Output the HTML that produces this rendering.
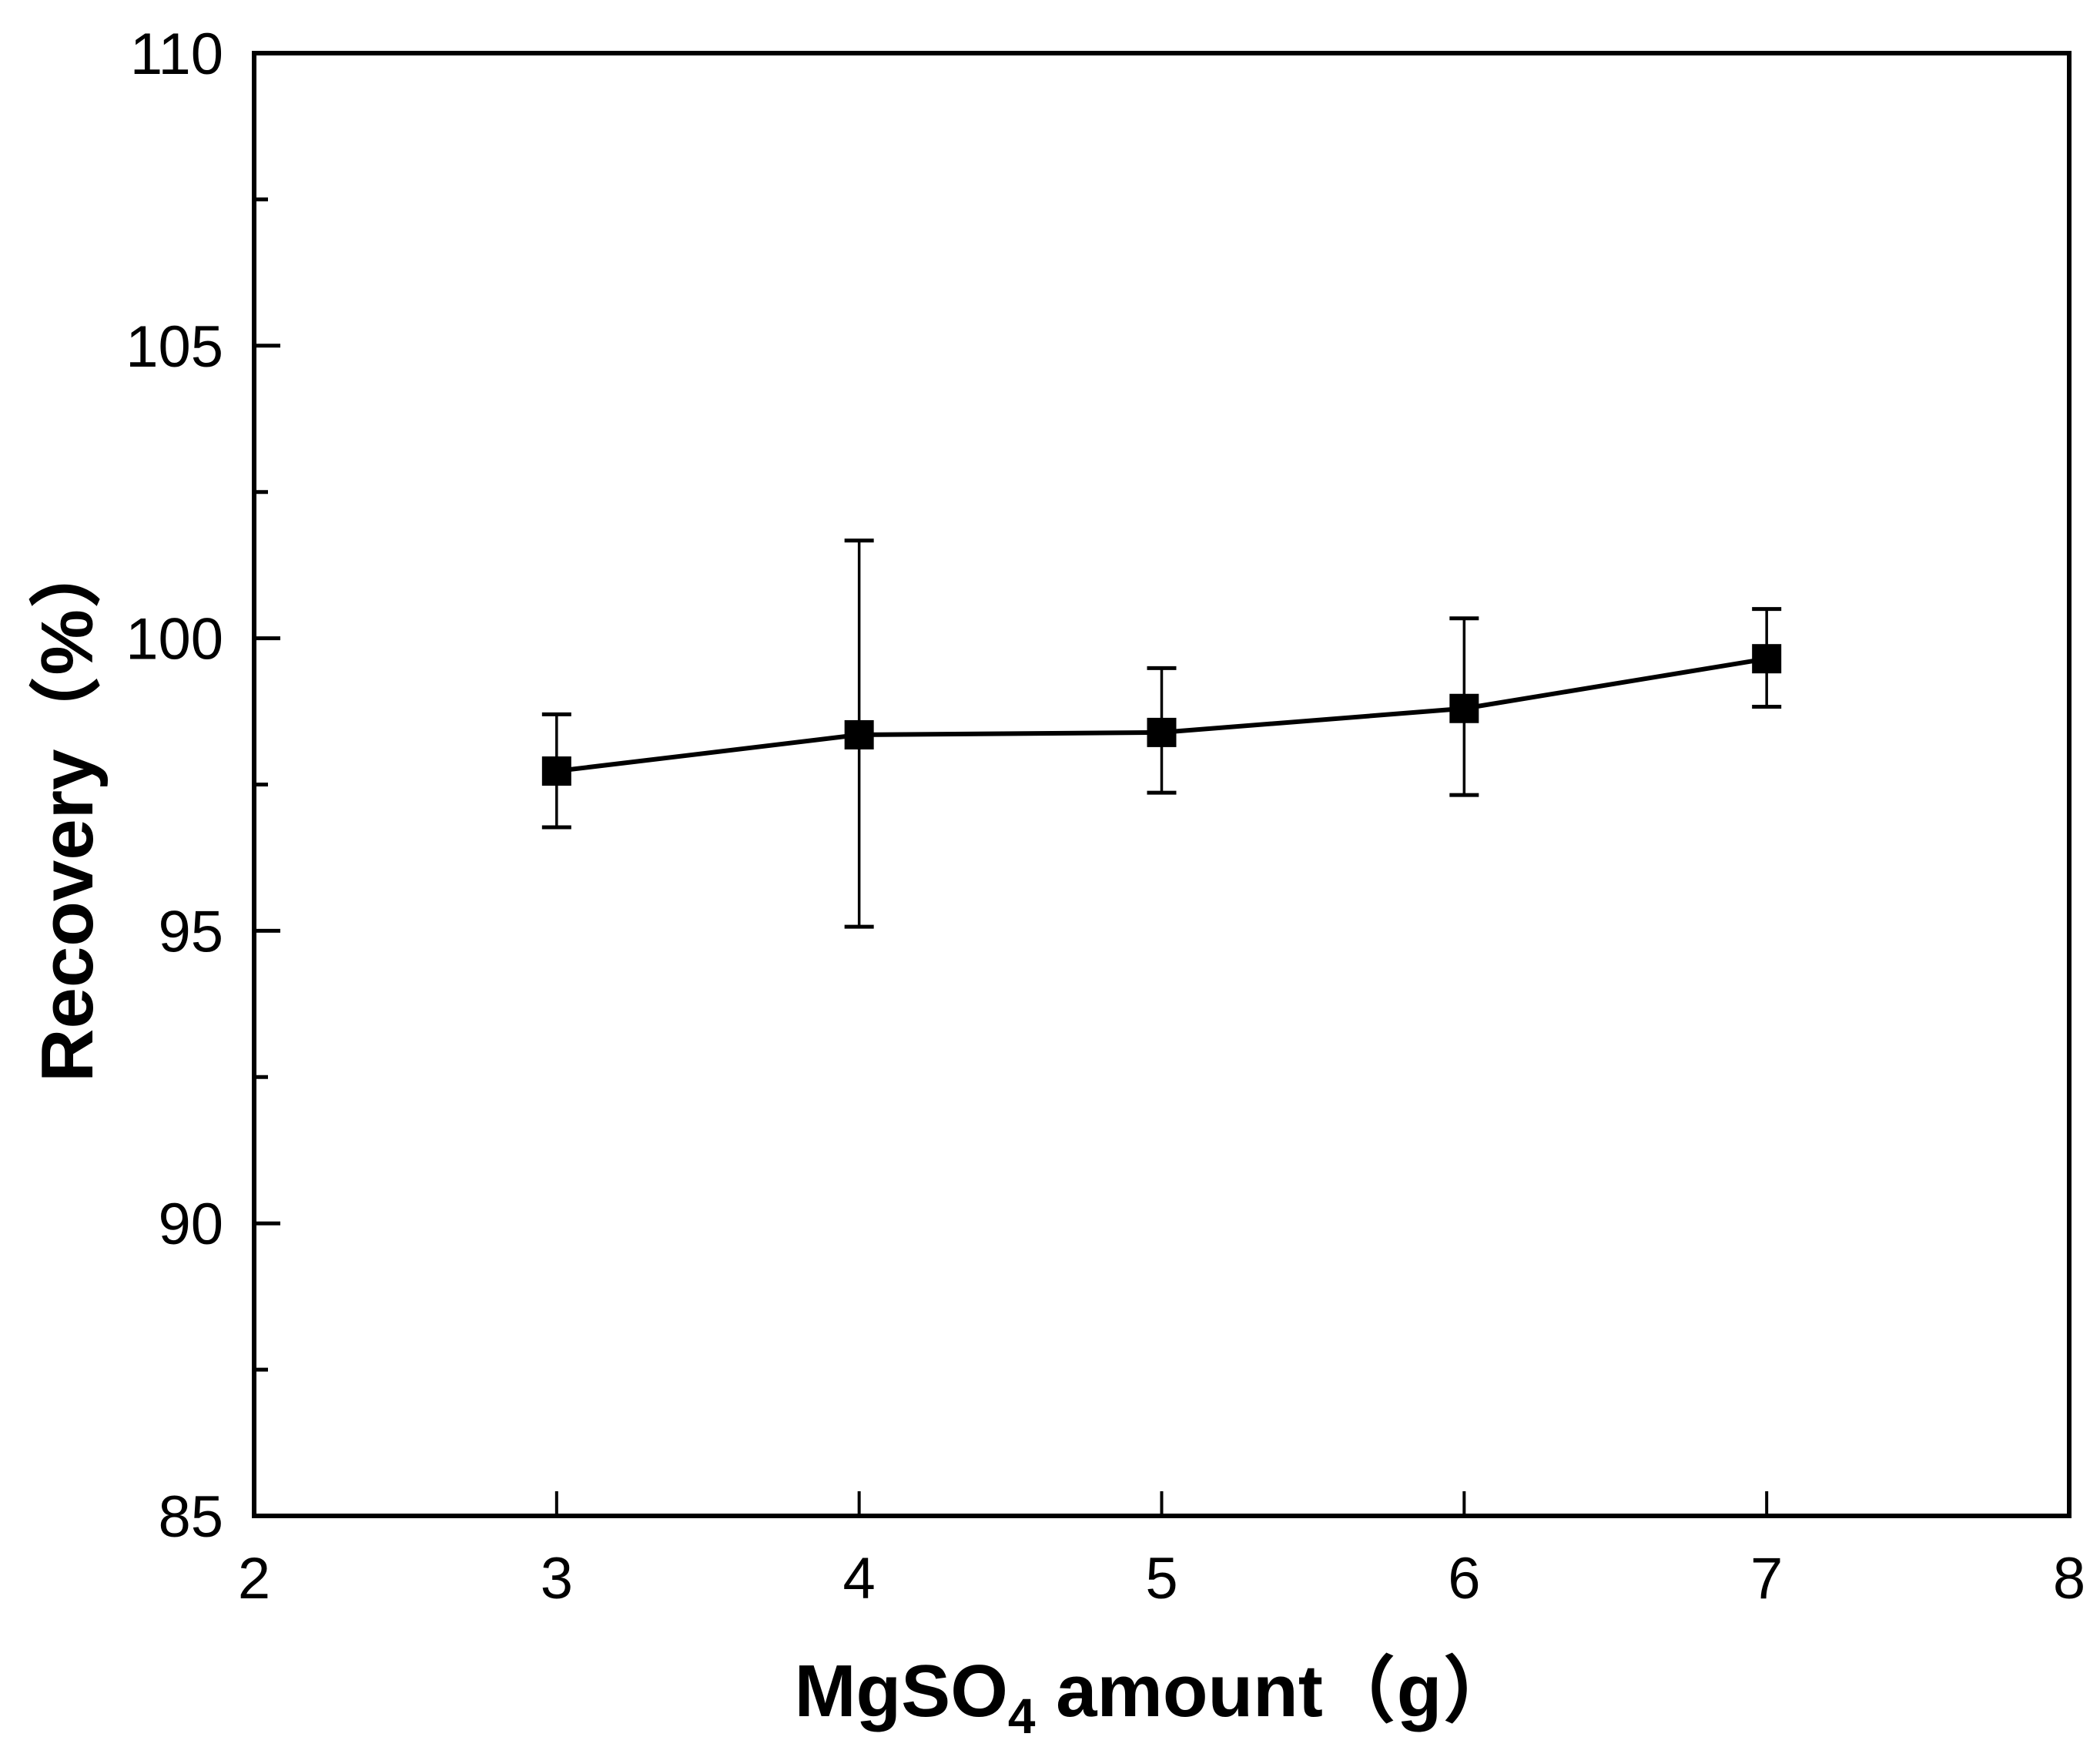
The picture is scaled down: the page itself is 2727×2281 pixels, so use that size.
<!DOCTYPE html>
<html><head><meta charset="utf-8"><style>
html,body{margin:0;padding:0;background:#fff;}
svg text{font-family:"Liberation Sans","Noto Sans CJK SC",sans-serif;fill:#000;}
</style></head><body>
<svg id="chart" width="2727" height="2276" viewBox="0 0 2727 2276" xmlns="http://www.w3.org/2000/svg">
<rect x="0" y="0" width="2727" height="2276" fill="#fff"/>
<g id="plot"></g>
<text transform="translate(120,1050) rotate(-90)" text-anchor="middle" font-size="96" font-weight="bold">Recovery（%）</text>
<text x="1500" y="2228" text-anchor="middle" font-size="96" font-weight="bold">MgSO<tspan font-size="64" dy="22">4</tspan><tspan dy="-22"> amount（g）</tspan></text>
</svg>
<script>
const xCats=[3,4,5,6,7];
const yVals=[97.73,98.35,98.39,98.80,99.65];
const yUpper=[98.7,101.67,99.49,100.34,100.5];
const yLower=[96.77,95.07,97.36,97.32,98.83];
const xTicks=[2,3,4,5,6,7,8];
const yTicks=[85,90,95,100,105,110];
const yMinor=[87.5,92.5,97.5,102.5,107.5];
const L=330,R=2687,T=69,B=1968;
const xs=v=>L+(v-2)/6*(R-L);
const ys=v=>B-(v-85)/25*(B-T);
const NS='http://www.w3.org/2000/svg';
const g=document.getElementById('plot');
function mk(tag,attrs){const e=document.createElementNS(NS,tag);for(const k in attrs)e.setAttribute(k,attrs[k]);g.appendChild(e);return e;}
let e;
e=mk('rect',{x:L,y:T,width:R-L,height:B-T,fill:'none',stroke:'#000','stroke-width':6});


xTicks.forEach(t=>{
  if(t>2&&t<8){e=mk('line',{x1:xs(t),x2:xs(t),y1:B,y2:B-32,stroke:'#000','stroke-width':4});
  
  }
  e=mk('text',{x:xs(t),y:2075,'text-anchor':'middle','font-size':76});e.textContent=t;
  
  
});
yTicks.forEach(t=>{
  if(t>85&&t<110){e=mk('line',{x1:L,x2:L+34,y1:ys(t),y2:ys(t),stroke:'#000','stroke-width':5});
  
  }
  e=mk('text',{x:290,y:ys(t)+27,'text-anchor':'end','font-size':76});e.textContent=t;
  
  
});
yMinor.forEach(t=>{
  e=mk('line',{x1:L,x2:L+18,y1:ys(t),y2:ys(t),stroke:'#000','stroke-width':5});
  
  
});
xCats.forEach((c,i)=>{
  const x=xs(c);
  e=mk('line',{x1:x,x2:x,y1:ys(yUpper[i]),y2:ys(yLower[i]),stroke:'#000','stroke-width':3.5});
  
  
  [yUpper[i],yLower[i]].forEach(v=>{
    e=mk('line',{x1:x-19,x2:x+19,y1:ys(v),y2:ys(v),stroke:'#000','stroke-width':5});
    
    
  });
});
e=mk('polyline',{points:xCats.map((c,i)=>xs(c)+','+ys(yVals[i])).join(' '),fill:'none',stroke:'#000','stroke-width':6});


xCats.forEach((c,i)=>{
  e=mk('rect',{x:xs(c)-19,y:ys(yVals[i])-19,width:38,height:38,fill:'#000'});
  
  
});
</script>
</body></html>
